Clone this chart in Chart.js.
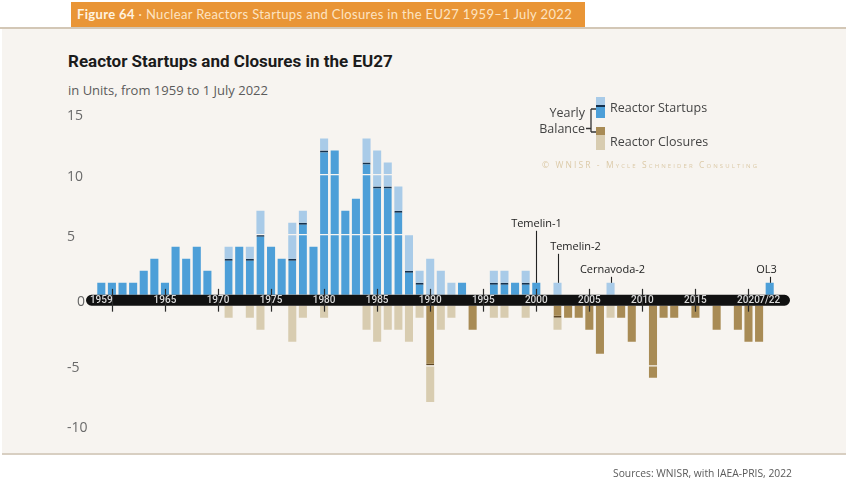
<!DOCTYPE html>
<html>
<head>
<meta charset="utf-8">
<title>Reactor Startups and Closures in the EU27</title>
<script src="https://cdn.jsdelivr.net/npm/chart.js@4.4.1/dist/chart.umd.min.js"></script>
<style>
  html, body { margin: 0; padding: 0; background: #fff; }
  body { width: 846px; height: 482px; position: relative; overflow: hidden; font-family: Lato, "Open Sans", sans-serif; }
  .abs { position: absolute; white-space: nowrap; }
  #figbar { left: 71px; top: 2px; width: 514px; height: 25px; background: #e99536; color: #fde4c2;
            font-size: 13px; letter-spacing: 0.35px; line-height: 25px; padding-left: 6px; box-sizing: border-box; }
  #figbar b { color: #fff3e0; }
  #topline { left: 0; top: 27px; width: 846px; height: 2px; background: #d3c7b6; }
  #panel { left: 2px; top: 29px; width: 844px; height: 424px; background: #f7f4f0; }
  #botline { left: 2px; top: 453px; width: 844px; height: 2px; background: #d8cfc2; }
  #title { left: 68px; top: 51px; font: bold 17px Roboto, sans-serif; color: #1b1b1b; }
  #subtitle { left: 68px; top: 81px; font: 13px "Open Sans", sans-serif; color: #5b5b5b; }
  .leg { font: 12.5px "Open Sans", sans-serif; color: #444; line-height: 16px; }
  #balance { left: 520px; top: 105px; width: 65px; text-align: right; }
  #swUp { left: 596px; top: 97px; width: 9px; height: 21px;
          background: linear-gradient(#a9cbe8 0 8px, #15314d 8px 10px, #4d9fd8 10px); }
  #swDown { left: 596px; top: 127px; width: 9px; height: 23px;
            background: linear-gradient(#a88b55 0 8px, #d8ccb0 8px); }
  #credit { left: 542px; top: 159px; font: 8.5px "Open Sans", sans-serif; font-variant: small-caps;
            letter-spacing: 2.1px; color: #dccaa8; }
  #sources { left: 613px; top: 466px; font: 10.3px "Open Sans", sans-serif; color: #5a5a5a; }
  #chartBox { position: absolute; left: 0; top: 0; width: 846px; height: 482px; }
</style>
</head>
<body>
<div class="abs" id="figbar"><b>Figure 64</b> · Nuclear Reactors Startups and Closures in the EU27 1959–1 July 2022</div>
<div class="abs" id="topline"></div>
<div class="abs" id="panel"></div>
<div class="abs" id="botline"></div>
<div class="abs" id="title">Reactor Startups and Closures in the EU27</div>
<div class="abs" id="subtitle">in Units, from 1959 to 1 July 2022</div>

<div id="chartBox"><canvas id="reactorChart" width="846" height="482"></canvas></div>

<div class="abs leg" id="balance">Yearly<br>Balance</div>
<svg class="abs" style="left:584px;top:105px" width="14" height="30">
  <path d="M2 23.5 H7 M7 4 V27 M7 4 H12 M7 27 H12" stroke="#333" stroke-width="1.3" fill="none"/>
</svg>
<div class="abs" id="swUp"></div>
<div class="abs" id="swDown"></div>
<div class="abs leg" style="left:610px;top:100px">Reactor Startups</div>
<div class="abs leg" style="left:610px;top:134px">Reactor Closures</div>
<div class="abs" id="credit">© WNISR - Mycle Schneider Consulting</div>
<div class="abs" id="sources">Sources: WNISR, with IAEA-PRIS, 2022</div>

<script>
// ========== DATA ==========
const years = [
    '1959', '1960', '1961', '1962', '1963', '1964', '1965', '1966', '1967', '1968',
    '1969', '1970', '1971', '1972', '1973', '1974', '1975', '1976', '1977', '1978',
    '1979', '1980', '1981', '1982', '1983', '1984', '1985', '1986', '1987', '1988',
    '1989', '1990', '1991', '1992', '1993', '1994', '1995', '1996', '1997', '1998',
    '1999', '2000', '2001', '2002', '2003', '2004', '2005', '2006', '2007', '2008',
    '2009', '2010', '2011', '2012', '2013', '2014', '2015', '2016', '2017', '2018',
    '2019', '2020', '2021', '2022'
];

// reactor startups per year
const startups = [
    1, 1, 1, 1, 2, 3, 1, 4, 3, 4,
    2, 0, 4, 4, 4, 7, 4, 3, 6, 7,
    4, 13, 12, 7, 8, 13, 12, 11, 9, 5,
    2, 3, 2, 1, 1, 0, 0, 2, 2, 1,
    2, 1, 0, 1, 0, 0, 0, 0, 1, 0,
    0, 0, 0, 0, 0, 0, 0, 0, 0, 0,
    0, 0, 0, 1
];

// reactor closures per year
const closures = [
    0, 0, 0, 0, 0, 0, 0, 0, 0, 0,
    0, 0, 1, 0, 1, 2, 0, 0, 3, 1,
    0, 1, 0, 0, 0, 2, 3, 2, 2, 3,
    1, 8, 2, 1, 0, 2, 0, 1, 1, 0,
    1, 0, 0, 2, 1, 1, 2, 4, 1, 1,
    3, 0, 6, 1, 1, 0, 1, 0, 2, 0,
    2, 3, 3, 0
];

const yTicksUp = [5, 10, 15];
const yTicksDown = [-5, -10];
const labelledYears = ['1959', '1965', '1970', '1975', '1980', '1985', '1990',
                       '1995', '2000', '2005', '2010', '2015', '2020'];
const lastYear = '2022';
const lastLabel = '7/22';
const tickYears = ['1960', '1965', '1970', '1975', '1980', '1985', '1990',
                   '1995', '2000', '2005', '2010', '2015', '2020'];
const noteNames = ['Temelin-1', 'Temelin-2', 'Cernavoda-2', 'OL3'];
const noteYears = ['2000', '2002', '2007', '2022'];

// ========== STYLE ==========
const BLUE = '#4d9fd8';
const BLUE_LIGHT = '#a9cbe8';
const NAVY = '#15314d';
const BROWN = '#a88b55';
const TAN = '#d8ccb0';
const BROWN_LINE = '#5e4723';
const PANEL_BG = '#f7f4f0';
const noteRise = [59, 36, 13, 13];   // px above bar top
const noteShift = [0, 17, 1, -4];    // text offset from the pointer line

// yearly balance split: dark part = net balance, light part = offset part
const balance = startups.map((s, i) => s - closures[i]);
const upDark = balance.map(b => Math.max(b, 0));
const upLight = startups.map((s, i) => s - upDark[i]);
const downDark = balance.map(b => Math.min(b, 0));
const downLight = closures.map((c, i) => -(c + downDark[i]));

// ========== PLUGINS ==========
const bandPlugin = {
    id: 'band',
    afterDatasetsDraw(chart) {
        const { ctx, chartArea, scales } = chart;
        const x = scales.x, yPos = scales.yPos, yNeg = scales.yNeg;
        const top = yPos.getPixelForValue(0);
        const bottom = yNeg.getPixelForValue(0);
        const mid = (top + bottom) / 2;

        ctx.save();
        // light grid lines over the bars
        ctx.strokeStyle = PANEL_BG;
        ctx.lineWidth = 1.3;
        yTicksUp.forEach(v => {
            const y = yPos.getPixelForValue(v);
            ctx.beginPath(); ctx.moveTo(chartArea.left, y); ctx.lineTo(chartArea.right, y); ctx.stroke();
        });
        yTicksDown.forEach(v => {
            const y = yNeg.getPixelForValue(v);
            ctx.beginPath(); ctx.moveTo(chartArea.left, y); ctx.lineTo(chartArea.right, y); ctx.stroke();
        });

        // black time band
        const left = chartArea.left - 10;
        const right = chartArea.right + 15;
        const r = (bottom - top) / 2;
        ctx.fillStyle = '#111';
        ctx.beginPath();
        ctx.moveTo(left + r, top);
        ctx.lineTo(right - r, top);
        ctx.arc(right - r, top + r, r, -Math.PI / 2, Math.PI / 2);
        ctx.lineTo(left + r, bottom);
        ctx.arc(left + r, top + r, r, Math.PI / 2, Math.PI * 1.5);
        ctx.fill();

        // tick marks
        ctx.strokeStyle = '#2b2b2b';
        ctx.lineWidth = 1.2;
        tickYears.forEach(yr => {
            const px = Math.round(x.getPixelForValue(years.indexOf(yr))) + 0.5;
            ctx.beginPath(); ctx.moveTo(px, top - 6); ctx.lineTo(px, bottom + 6); ctx.stroke();
        });

        // year labels inside the band
        ctx.fillStyle = '#d9d9d9';
        ctx.font = '500 10px Roboto';
        ctx.textAlign = 'center';
        ctx.textBaseline = 'middle';
        years.forEach((yr, i) => {
            let txt = '';
            if (yr === lastYear) txt = lastLabel;
            else if (labelledYears.includes(yr)) txt = yr;
            if (txt) ctx.fillText(txt, x.getPixelForValue(i), mid + 0.5);
        });

        // zero label
        ctx.fillStyle = '#666';
        ctx.font = '14px "Open Sans"';
        ctx.textAlign = 'right';
        ctx.fillText('0', left - 1, mid + 1.5);

        // reactor annotations
        ctx.fillStyle = '#222';
        ctx.strokeStyle = '#222';
        ctx.lineWidth = 1.1;
        ctx.font = '11px "Open Sans"';
        ctx.textAlign = 'center';
        noteNames.forEach((name, i) => {
            const idx = years.indexOf(noteYears[i]);
            const px = Math.round(x.getPixelForValue(idx)) + 0.5;
            const barTop = yPos.getPixelForValue(startups[idx]);
            const ty = barTop - noteRise[i];
            ctx.fillText(name, px + noteShift[i], ty);
            ctx.beginPath(); ctx.moveTo(px, ty + 7); ctx.lineTo(px, barTop); ctx.stroke();
        });
        ctx.restore();
    }
};

// ========== CHART ==========
function noPad(s) {
    s.paddingTop = 0; s.paddingBottom = 0; s.paddingLeft = 0; s.paddingRight = 0;
}

const ctx = document.getElementById('reactorChart');
new Chart(ctx, {
    type: 'bar',
    data: {
        labels: years,
        datasets: [
            {
                label: 'Startups (balance)',
                data: upDark,
                yAxisID: 'yPos',
                stack: 'all',
                backgroundColor: BLUE,
                borderColor: NAVY,
                borderSkipped: false,
                borderWidth: c => (upDark[c.dataIndex] > 0 && upLight[c.dataIndex] > 0)
                    ? { top: 2, bottom: 0, left: 0, right: 0 } : 0
            },
            {
                label: 'Startups',
                data: upLight,
                yAxisID: 'yPos',
                stack: 'all',
                backgroundColor: BLUE_LIGHT,
                borderWidth: 0
            },
            {
                label: 'Closures (balance)',
                data: downDark,
                yAxisID: 'yNeg',
                stack: 'all',
                backgroundColor: BROWN,
                borderColor: BROWN_LINE,
                borderSkipped: false,
                borderWidth: c => (downDark[c.dataIndex] < 0 && downLight[c.dataIndex] < 0)
                    ? { top: 0, bottom: 2, left: 0, right: 0 } : 0
            },
            {
                label: 'Closures',
                data: downLight,
                yAxisID: 'yNeg',
                stack: 'all',
                backgroundColor: TAN,
                borderWidth: 0
            }
        ]
    },
    options: {
        responsive: false,
        animation: false,
        devicePixelRatio: 1,
        layout: { padding: { top: 100, bottom: 38, left: 67, right: 71 } },
        datasets: { bar: { categoryPercentage: 1, barPercentage: 0.76 } },
        plugins: {
            legend: { display: false },
            tooltip: { enabled: false }
        },
        scales: {
            x: {
                type: 'category',
                stacked: true,
                offset: true,
                position: 'bottom',
                grid: { display: false, drawTicks: false },
                border: { display: false },
                ticks: { display: false },
                afterFit: s => { s.height = 0; noPad(s); }
            },
            yPos: {
                type: 'linear',
                position: 'left',
                stack: 'v',
                stackWeight: 16.65,
                weight: 2,
                stacked: true,
                min: -0.45,
                max: 16.2,
                grid: { display: false },
                border: { display: false },
                afterBuildTicks: s => { s.ticks = yTicksUp.map(v => ({ value: v })); },
                afterFit: s => { s.width = 29; noPad(s); },
                ticks: { crossAlign: 'far', padding: 0, labelOffset: 2, color: '#6a6a6a',
                         font: { family: 'Open Sans', size: 14 } }
            },
            yNeg: {
                type: 'linear',
                position: 'left',
                stack: 'v',
                stackWeight: 11.95,
                weight: 1,
                stacked: true,
                min: -11.5,
                max: 0.45,
                grid: { display: false },
                border: { display: false },
                afterBuildTicks: s => { s.ticks = yTicksDown.map(v => ({ value: v })); },
                afterFit: s => { s.width = 29; noPad(s); },
                ticks: { crossAlign: 'far', padding: 0, labelOffset: 2, color: '#6a6a6a',
                         font: { family: 'Open Sans', size: 14 } }
            }
        }
    },
    plugins: [bandPlugin]
});
</script>
</body>
</html>
